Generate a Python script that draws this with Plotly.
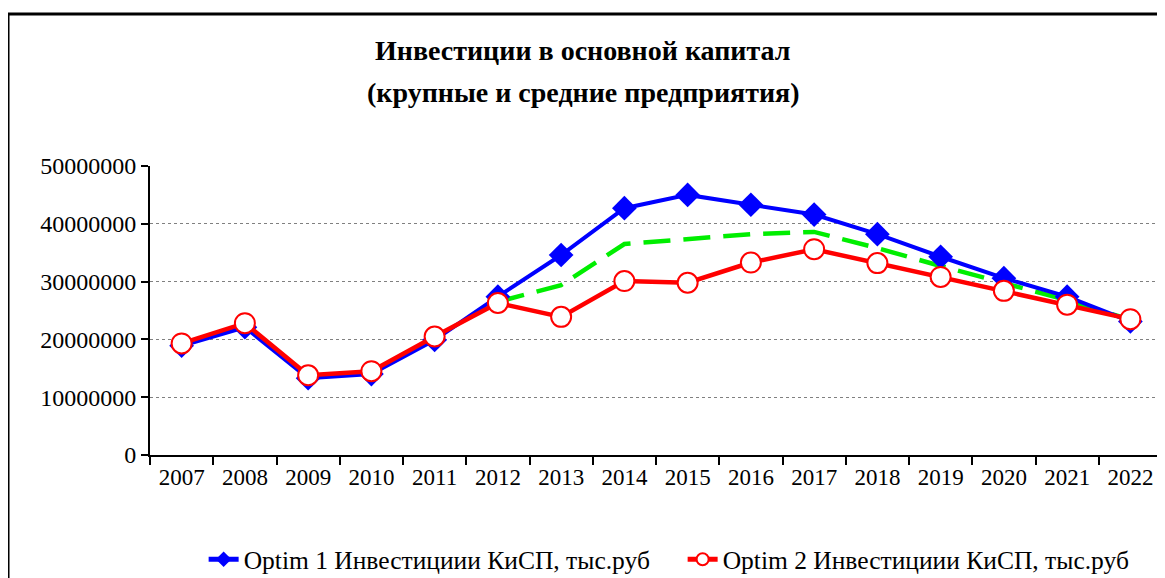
import plotly.graph_objects as go

years = [str(y) for y in range(2007, 2023)]
optim1 = [18.9e6, 22.1e6, 13.3e6, 14.0e6, 19.9e6, 27.4e6, 34.6e6, 42.7e6, 45.0e6,
          43.3e6, 41.6e6, 38.2e6, 34.3e6, 30.6e6, 27.4e6, 23.1e6]
optim2 = [19.3e6, 22.8e6, 13.8e6, 14.5e6, 20.5e6, 26.3e6, 23.9e6, 30.1e6, 29.8e6,
          33.3e6, 35.6e6, 33.2e6, 30.8e6, 28.4e6, 26.0e6, 23.5e6]
green_years = years[5:]
green = [26.5e6, 29.4e6, 36.5e6, 37.3e6, 38.2e6, 38.6e6, 35.8e6, 32.7e6, 29.7e6, 26.8e6, 23.4e6]

name1 = "Optim 1 Инвестициии КиСП, тыс.руб"
name2 = "Optim 2 Инвестициии КиСП, тыс.руб"
title1 = "Инвестиции в основной капитал"
title2 = "(крупные и средние предприятия)"

SERIF = "Liberation Serif, Times New Roman, serif"

fig = go.Figure()
fig.add_trace(go.Scatter(
    x=green_years, y=green, mode="lines", showlegend=False,
    line=dict(color="#00ee00", width=4.5, dash="27px,13px"), hoverinfo="skip"))
fig.add_trace(go.Scatter(
    x=years, y=optim1, mode="lines+markers", name=name1,
    line=dict(color="#0000ff", width=4),
    marker=dict(symbol="diamond", size=19, color="#0000ff")))
fig.add_trace(go.Scatter(
    x=years, y=optim2, mode="lines+markers", name=name2,
    line=dict(color="#ff0000", width=4.5),
    marker=dict(symbol="circle", size=20, color="white",
                line=dict(color="#ff0000", width=2))))

# page body has an 8px default margin, so the figure is 8px smaller
fig.update_layout(
    width=1157, height=570,
    margin=dict(l=142, r=3, t=158, b=123, autoexpand=False),
    paper_bgcolor="white", plot_bgcolor="white",
    font=dict(family=SERIF, size=22, color="black"),
    showlegend=True,
    legend=dict(orientation="h", x=0.053, xanchor="left", y=-0.362, yanchor="middle",
                font=dict(family=SERIF, size=25.5, color="black"),
                bgcolor="rgba(0,0,0,0)", itemwidth=30, itemsizing="constant",
                entrywidth=434, entrywidthmode="pixels"),
    xaxis=dict(type="category", categoryorder="array", categoryarray=years,
               tickson="boundaries", ticks="outside", ticklen=8,
               tickwidth=2, tickcolor="black", showline=True, linecolor="black",
               linewidth=2, showgrid=False, zeroline=False, automargin=False,
               tickfont=dict(family=SERIF, size=23), range=[-0.5, 15.5]),
    yaxis=dict(range=[0, 50e6], dtick=10e6, tickformat="d", ticks="outside",
               ticklen=7, tickwidth=2, tickcolor="black", showline=True,
               linecolor="black", linewidth=2, showgrid=True, gridcolor="#808080",
               griddash="dot", gridwidth=1, zeroline=False, automargin=False,
               tickfont=dict(family=SERIF, size=24)),
    annotations=[
        dict(text="<b>" + title1 + "</b>", xref="paper", yref="paper",
             x=0.428, y=(455 - 50) / 289, xanchor="center", yanchor="middle",
             showarrow=False, font=dict(family=SERIF, size=28, color="black")),
        dict(text="<b>" + title2 + "</b>", xref="paper", yref="paper",
             x=0.428, y=(455 - 92) / 289, xanchor="center", yanchor="middle",
             showarrow=False, font=dict(family=SERIF, size=28, color="black")),
    ],
    shapes=[dict(type="rect", xref="paper", yref="paper",
                 x0=-0.1403, x1=1.02, y0=-0.5, y1=1.526,
                 line=dict(color="black", width=3), fillcolor="rgba(0,0,0,0)",
                 layer="below")],
)

fig.write_html("out.html")
